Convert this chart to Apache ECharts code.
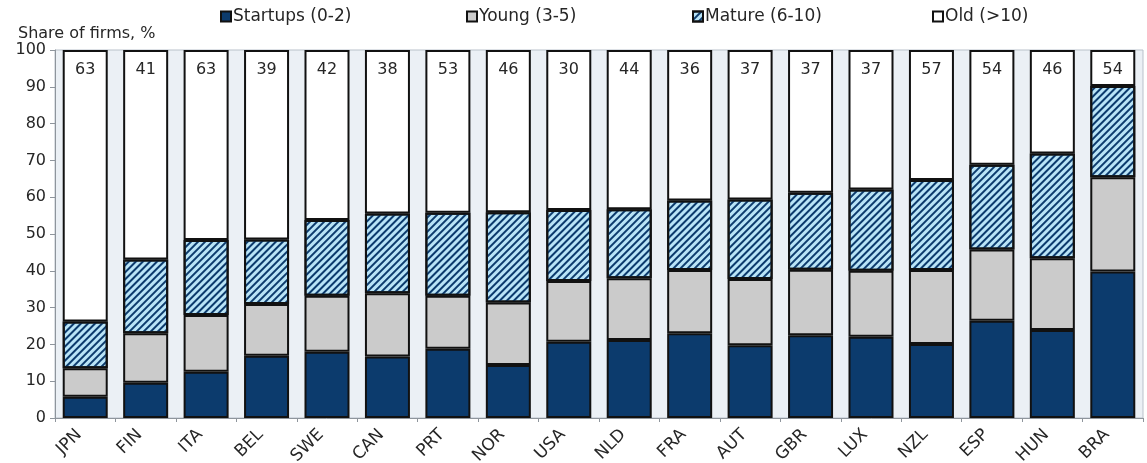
<!DOCTYPE html>
<html>
<head>
<meta charset="utf-8">
<script src="https://cdn.jsdelivr.net/npm/echarts@6/dist/echarts.min.js"></script>
<style>
  html, body { margin: 0; padding: 0; background: #ffffff; }
  #chart { width: 1147px; height: 463px; }
</style>
</head>
<body>
<div id="chart"></div>
<script>
// Firm age structure by country, share of firms (%)
const countries = ['JPN', 'FIN', 'ITA', 'BEL', 'SWE', 'CAN', 'PRT', 'NOR', 'USA', 'NLD', 'FRA', 'AUT', 'GBR', 'LUX', 'NZL', 'ESP', 'HUN', 'BRA'];
const startups = [5.8, 9.6, 12.6, 16.9, 18.0, 16.7, 18.8, 14.4, 20.7, 21.2, 23.0, 19.8, 22.5, 22.1, 20.1, 26.4, 23.9, 39.8];
const young    = [7.7, 13.4, 15.4, 14.1, 15.2, 17.2, 14.4, 17.0, 16.5, 16.8, 17.2, 18.0, 17.8, 17.9, 20.1, 19.4, 19.5, 25.6];
const mature   = [12.7, 20.1, 20.4, 17.5, 20.6, 21.7, 22.6, 24.5, 19.3, 18.7, 18.9, 21.6, 20.9, 22.1, 24.5, 23.0, 28.5, 24.8];
const old      = [73.8, 56.9, 51.6, 51.5, 46.2, 44.4, 44.2, 44.1, 43.5, 43.3, 40.9, 40.6, 38.8, 37.9, 35.3, 31.2, 28.1, 9.8];
// Figures printed at the top of each column
const topLabels = [63, 41, 63, 39, 42, 38, 53, 46, 30, 44, 36, 37, 37, 37, 57, 54, 46, 54];
const seriesNames = ['Startups (0-2)', 'Young (3-5)', 'Mature (6-10)', 'Old (>10)'];

const FONT = "'DejaVu Sans', 'Liberation Sans', Arial, sans-serif";
const NAVY = '#0c3b6d';
const TEXT = '#262626';
const border = { borderColor: '#111111', borderWidth: 2 };

// One legend entry per component so each key sits at its own x position
const legendLeft = [220, 466, 692, 932];
const legends = seriesNames.map((name, i) => ({
  top: 8,
  left: legendLeft[i],
  padding: 0,
  itemWidth: 10,
  itemHeight: 10,
  icon: 'rect',
  textStyle: { fontFamily: FONT, fontSize: 17, color: TEXT, padding: [0, 0, 0, -3] },
  data: [name]
}));

const chart = echarts.init(document.getElementById('chart'), null, { renderer: 'canvas' });

chart.setOption({
  backgroundColor: '#ffffff',
  animation: false,
  textStyle: { fontFamily: FONT },
  legend: legends,
  grid: {
    left: 55, right: 4, top: 50, bottom: 45,
    outerBoundsMode: 'none',
    containLabel: false,
    show: true,
    backgroundColor: '#ebf0f5',
    borderColor: '#b9c1ca',
    borderWidth: 1
  },
  xAxis: {
    type: 'category',
    data: countries,
    axisLine: { lineStyle: { color: '#8e959c', width: 1 } },
    axisTick: { show: true, length: 4, lineStyle: { color: '#8e959c' } },
    axisLabel: {
      rotate: 45, fontSize: 17, color: TEXT, fontFamily: FONT, margin: 8,
      // trailing en space pulls each rotated name down-left of its tick
      formatter: v => v + '\u2002'
    }
  },
  yAxis: {
    type: 'value',
    min: 0, max: 100, interval: 10,
    name: 'Share of firms, %',
    nameLocation: 'end',
    nameGap: 4,
    nameTextStyle: { fontSize: 16, color: TEXT, fontFamily: FONT, align: 'left', padding: [0, 0, 0, -37] },
    axisLine: { show: true, lineStyle: { color: '#8e959c' } },
    axisTick: { show: true, length: 5, lineStyle: { color: '#8e959c' } },
    splitLine: { show: false },
    axisLabel: { fontSize: 16, color: TEXT, fontFamily: FONT, margin: 9 }
  },
  series: [
    {
      name: seriesNames[0], type: 'bar', stack: 'age', barWidth: 45,
      data: startups,
      itemStyle: Object.assign({ color: NAVY }, border)
    },
    {
      name: seriesNames[1], type: 'bar', stack: 'age', barWidth: 45,
      data: young,
      itemStyle: Object.assign({ color: '#cbcbcb' }, border)
    },
    {
      name: seriesNames[2], type: 'bar', stack: 'age', barWidth: 45,
      data: mature,
      itemStyle: Object.assign({
        color: '#b9e4f7',
        decal: {
          symbol: 'rect',
          symbolSize: 1,
          color: NAVY,
          dashArrayX: [1, 0],
          dashArrayY: [1.6, 2.6],
          rotation: -Math.PI / 4
        }
      }, border)
    },
    {
      name: seriesNames[3], type: 'bar', stack: 'age', barWidth: 45,
      data: old,
      itemStyle: Object.assign({ color: '#ffffff' }, border),
      label: {
        show: true,
        position: 'insideTop',
        distance: 12,
        fontSize: 16,
        color: TEXT,
        fontFamily: FONT,
        formatter: p => String(topLabels[p.dataIndex])
      }
    }
  ]
});
</script>
</body>
</html>
